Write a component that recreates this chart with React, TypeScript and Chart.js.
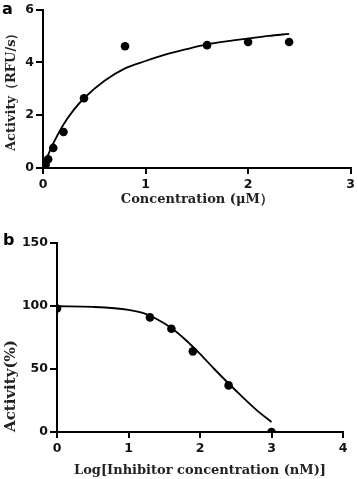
import React, { useEffect, useRef } from "react";
import { Chart, registerables } from "chart.js";
Chart.register(...registerables);

// Panel a: enzyme kinetics
const concA = [0.0125, 0.025, 0.05, 0.1, 0.2, 0.4, 0.8, 1.6, 2.0, 2.4];
const activityA = [0.06, 0.13, 0.33, 0.76, 1.36, 2.64, 4.61, 4.65, 4.77, 4.77];
const fitConcA = [0, 0.05, 0.1, 0.2, 0.3, 0.4, 0.6, 0.8, 1.0, 1.2, 1.4, 1.6, 1.8, 2.0, 2.2, 2.4];
const fitActivityA = [0, 0.5, 0.93, 1.65, 2.2, 2.64, 3.3, 3.77, 4.05, 4.3, 4.5, 4.68, 4.8, 4.9, 5.0, 5.08];
const xTicksA = [0, 1, 2, 3];
const yTicksA = [0, 2, 4, 6];

// Panel b: inhibition
const logConcB = [0, 1.3, 1.6, 1.9, 2.4, 3.0];
const activityB = [98, 91, 82, 64, 37, 0];
const fitLogConcB = [0, 0.5, 1.0, 1.2, 1.4, 1.6, 1.8, 2.0, 2.2, 2.4, 2.6, 2.8, 3.0];
const fitActivityB = [99.8, 99.3, 97, 94.5, 89.5, 82.5, 73, 62, 50, 38.5, 27.5, 17, 8];
const xTicksB = [0, 1, 2, 3, 4];
const yTicksB = [0, 50, 100, 150];

const TICK_FONT = { family: '"DejaVu Sans", sans-serif', size: 12.5, weight: "bold" as const };

function panelLabel(text: string, x: number, y: number) {
  return {
    id: "panelLabel" + text,
    afterDraw(chart: any) {
      const ctx = chart.ctx;
      ctx.save();
      ctx.font = 'bold 16px "DejaVu Sans", sans-serif';
      ctx.fillStyle = "#000";
      ctx.textBaseline = "alphabetic";
      ctx.textAlign = "left";
      ctx.fillText(text, x, y);
      ctx.restore();
    },
  };
}

interface PanelSpec {
  xs: number[];
  ys: number[];
  fitX: number[];
  fitY: number[];
  xTicks: number[];
  yTicks: number[];
  xTitle: string;
  yTitle: string;
  yTitleAlign: "center" | "start";
  yTitleSize: number;
  padding: { top: number; right: number };
  yWidth: number;
  xHeight: number;
  xTitlePadBottom: number;
  yTitlePadTop: number;
  label: string;
  labelX: number;
  labelY: number;
}

function buildConfig(p: PanelSpec): any {
  const axisCommon = {
    type: "linear",
    border: { display: true, color: "#000", width: 2 },
    ticks: { color: "#111", font: TICK_FONT },
  };
  return {
    type: "scatter",
    data: {
      datasets: [
        {
          data: p.fitX.map((x, i) => ({ x, y: p.fitY[i] })),
          showLine: true,
          borderColor: "#000",
          borderWidth: 1.8,
          pointRadius: 0,
          fill: false,
          cubicInterpolationMode: "monotone",
        },
        {
          data: p.xs.map((x, i) => ({ x, y: p.ys[i] })),
          showLine: false,
          pointRadius: 4.3,
          backgroundColor: "#000",
          borderColor: "#000",
          borderWidth: 0,
        },
      ],
    },
    options: {
      responsive: false,
      animation: false,
      devicePixelRatio: 1,
      layout: { padding: { top: p.padding.top, right: p.padding.right, left: 0, bottom: 0 } },
      plugins: { legend: { display: false }, tooltip: { enabled: false } },
      scales: {
        x: {
          ...axisCommon,
          position: "bottom",
          min: p.xTicks[0],
          max: p.xTicks[p.xTicks.length - 1],
          grid: { display: true, drawOnChartArea: false, drawTicks: true, tickLength: 6, color: "#000", lineWidth: 2 },
          ticks: { ...axisCommon.ticks, padding: 3, maxRotation: 0 },
          afterBuildTicks: (s: any) => {
            s.ticks = p.xTicks.map((v) => ({ value: v }));
          },
          afterFit: (s: any) => {
            s.height = p.xHeight;
          },
          title: {
            display: true,
            text: p.xTitle,
            color: "#222",
            font: { family: '"DejaVu Serif", serif', size: 13, weight: "bold" },
            padding: { top: 0, bottom: p.xTitlePadBottom },
          },
        },
        y: {
          ...axisCommon,
          position: "left",
          min: p.yTicks[0],
          max: p.yTicks[p.yTicks.length - 1],
          grid: { display: true, drawOnChartArea: false, drawTicks: true, tickLength: 7, color: "#000", lineWidth: 2 },
          ticks: { ...axisCommon.ticks, padding: 2 },
          afterBuildTicks: (s: any) => {
            s.ticks = p.yTicks.map((v) => ({ value: v }));
          },
          afterFit: (s: any) => {
            s.width = p.yWidth;
          },
          title: {
            display: true,
            text: p.yTitle,
            color: "#222",
            align: p.yTitleAlign,
            font: { family: '"DejaVu Serif", serif', size: p.yTitleSize, weight: "bold" },
            padding: { top: p.yTitlePadTop, bottom: 0 },
          },
        },
      },
    },
    plugins: [panelLabel(p.label, p.labelX, p.labelY)],
  };
}

const specA: PanelSpec = {
  xs: concA,
  ys: activityA,
  fitX: fitConcA,
  fitY: fitActivityA,
  xTicks: xTicksA,
  yTicks: yTicksA,
  xTitle: "Concentration (μM）",
  yTitle: "Activity（RFU/s）",
  yTitleAlign: "center",
  yTitleSize: 13,
  padding: { top: 8, right: 7 },
  yWidth: 43,
  xHeight: 57,
  xTitlePadBottom: 18,
  yTitlePadTop: 4,
  label: "a",
  labelX: 2,
  labelY: 14,
};

const specB: PanelSpec = {
  xs: logConcB,
  ys: activityB,
  fitX: fitLogConcB,
  fitY: fitActivityB,
  xTicks: xTicksB,
  yTicks: yTicksB,
  xTitle: "Log[Inhibitor concentration (nM)]",
  yTitle: "Activity(%)",
  yTitleAlign: "start",
  yTitleSize: 15,
  padding: { top: 18, right: 15 },
  yWidth: 57,
  xHeight: 47,
  xTitlePadBottom: 1,
  yTitlePadTop: 2,
  label: "b",
  labelX: 3,
  labelY: 20,
};

function Panel({ spec, top, height }: { spec: PanelSpec; top: number; height: number }) {
  const ref = useRef<HTMLCanvasElement | null>(null);
  useEffect(() => {
    if (!ref.current) return;
    const chart = new Chart(ref.current, buildConfig(spec));
    return () => chart.destroy();
  }, [spec]);
  return (
    <canvas
      ref={ref}
      width={358}
      height={height}
      style={{ position: "absolute", left: 0, top, width: 358, height }}
    />
  );
}

export default function App() {
  return (
    <div style={{ position: "fixed", left: 0, top: 0, width: 358, height: 479, background: "#fff", overflow: "hidden" }}>
      <Panel spec={specA} top={0} height={225} />
      <Panel spec={specB} top={225} height={254} />
    </div>
  );
}
